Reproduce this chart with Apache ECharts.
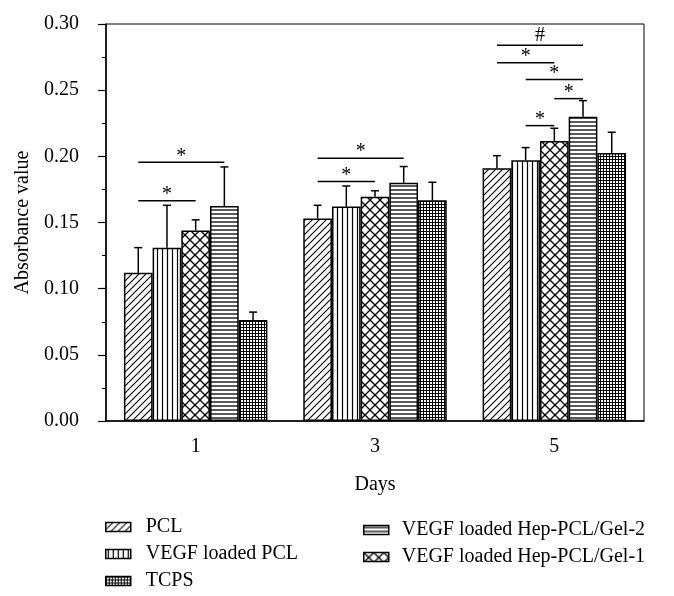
<!DOCTYPE html>
<html>
<head>
<meta charset="utf-8">
<script src="https://cdn.jsdelivr.net/npm/echarts@6/dist/echarts.min.js"></script>
<style>html,body{margin:0;padding:0;background:#fff}#c{width:674px;height:596px}</style>
</head>
<body>
<div id="c"></div>
<script>
// ---- data ----
const days = ['1', '3', '5'];
const seriesNames = ['PCL', 'VEGF loaded PCL', 'VEGF loaded Hep-PCL/Gel-1', 'VEGF loaded Hep-PCL/Gel-2', 'TCPS'];
const pcl      = [0.112, 0.153, 0.191];
const pclErr   = [0.019, 0.010, 0.0095];
const vegfPcl    = [0.131, 0.162, 0.197];
const vegfPclErr = [0.032, 0.0156, 0.0096];
const gel1    = [0.144, 0.1695, 0.2116];
const gel1Err = [0.008, 0.0045, 0.0096];
const gel2    = [0.1625, 0.180, 0.230];
const gel2Err = [0.0295, 0.0123, 0.0121];
const tcps    = [0.0763, 0.1668, 0.2026];
const tcpsErr = [0.006, 0.0136, 0.0156];
const yTicks = [0, 0.05, 0.10, 0.15, 0.20, 0.25, 0.30];
// significance brackets: day index, from bar, to bar, height
const sigDay  = [0, 0, 1, 1, 2, 2, 2, 2, 2];
const sigFrom = [0, 0, 0, 0, 0, 0, 1, 2, 1];
const sigTo   = [3, 2, 3, 2, 3, 2, 3, 3, 2];
const sigY    = [0.1955, 0.1665, 0.1986, 0.181, 0.284, 0.2708, 0.258, 0.2436, 0.2232];
const sigMark = ['*', '*', '*', '*', '#', '*', '*', '*', '*'];

const means = [pcl, vegfPcl, gel1, gel2, tcps];
const errs = [pclErr, vegfPclErr, gel1Err, gel2Err, tcpsErr];

// ---- patterns ----
function pat(w, h, draw) {
  const cv = document.createElement('canvas');
  cv.width = w; cv.height = h;
  const ctx = cv.getContext('2d');
  ctx.fillStyle = '#fff'; ctx.fillRect(0, 0, w, h);
  ctx.strokeStyle = '#000'; ctx.lineWidth = 1.1;
  draw(ctx, w, h);
  return { image: cv, repeat: 'repeat' };
}
function line(ctx, a, b, c, d) { ctx.beginPath(); ctx.moveTo(a, b); ctx.lineTo(c, d); ctx.stroke(); }
const patterns = [
  pat(7, 7, (x, w, h) => { line(x, -1, h + 1, w + 1, -1); line(x, -1, 1, 1, -1); line(x, w - 1, h + 1, w + 1, h - 1); }),
  pat(5, 5, (x, w, h) => { x.lineWidth = 1.2; line(x, 2.5, 0, 2.5, h); }),
  pat(10, 10, (x, w, h) => { x.lineWidth = 1.3; line(x, 0, 0, w, h); line(x, 0, h, w, 0); }),
  pat(4, 4, (x, w, h) => { x.lineWidth = 1.3; line(x, 0, 2, w, 2); }),
  pat(3, 3, (x, w, h) => { x.lineWidth = 1; line(x, 0.5, 0, 0.5, h); line(x, 0, 0.5, w, 0.5); })
];

const FONT = 'Liberation Serif';
const FS = 20;
const NB = 5, GAP = 0.2;

function barX(api, cat, idx) {
  const c = api.coord([cat, 0]);
  const band = api.size([1, 0])[0];
  const bw = band * (1 - GAP) / NB;
  return c[0] - band * (1 - GAP) / 2 + bw * (idx + 0.5);
}

const series = [];
means.forEach((m, i) => {
  series.push({
    name: seriesNames[i], type: 'bar', xAxisIndex: 0, data: m,
    barGap: '0%', barCategoryGap: '20%',
    itemStyle: { color: patterns[i], borderColor: '#000', borderWidth: 1.5 },
    emphasis: { disabled: true }, animation: false
  });
});
const errData = [];
means.forEach((m, i) => m.forEach((v, d) => errData.push([d, v, errs[i][d], i])));
series.push({
  type: 'custom', xAxisIndex: 0, data: errData, encode: { x: 0, y: 1 }, z: 5, animation: false,
  renderItem: function (params, api) {
    const d = api.value(0), v = api.value(1), e = api.value(2), i = api.value(3);
    const x = barX(api, d, i);
    const y0 = api.coord([d, v])[1];
    const y1 = api.coord([d, v + e])[1];
    const st = { stroke: '#000', lineWidth: 1.5 };
    return { type: 'group', children: [
      { type: 'line', shape: { x1: x, y1: y0, x2: x, y2: y1 }, style: st },
      { type: 'line', shape: { x1: x - 4, y1: y1, x2: x + 4, y2: y1 }, style: st }
    ] };
  }
});
const sigData = sigDay.map((d, k) => [d, sigY[k], sigFrom[k], sigTo[k]]);
series.push({
  type: 'custom', xAxisIndex: 0, data: sigData, encode: { x: 0, y: 1 }, z: 6, animation: false,
  renderItem: function (params, api) {
    const d = api.value(0), h = api.value(1), f = api.value(2), t = api.value(3);
    const x1 = barX(api, d, f), x2 = barX(api, d, t);
    const y = api.coord([d, h])[1];
    const mk = sigMark[params.dataIndex];
    return { type: 'group', children: [
      { type: 'line', shape: { x1: x1, y1: y, x2: x2, y2: y }, style: { stroke: '#000', lineWidth: 1.5 } },
      { type: 'text', style: { text: mk, x: (x1 + x2) / 2, y: y - (mk === '#' ? 9 : 6), align: 'center', verticalAlign: 'middle',
        font: FS + 'px "' + FONT + '"', fill: '#000' } }
    ] };
  }
});

const chart = echarts.init(document.getElementById('c'), null, { renderer: 'canvas' });
chart.setOption({
  backgroundColor: '#fff',
  animation: false,
  textStyle: { fontFamily: FONT, color: '#000' },
  grid: { left: 106, right: 30, top: 24, bottom: 175, show: true, borderColor: '#000', borderWidth: 1, backgroundColor: 'transparent' },
  legend: [
    { data: [seriesNames[0], seriesNames[1], seriesNames[4]], orient: 'vertical', left: 100, top: 512, itemWidth: 25, itemHeight: 9, itemGap: 7,
      icon: 'rect', selectedMode: false, textStyle: { fontFamily: FONT, fontSize: FS, color: '#000', padding: [0, 0, 0, 10] },
      itemStyle: { borderColor: '#000', borderWidth: 1.5 } },
    { data: [seriesNames[3], seriesNames[2]], orient: 'vertical', left: 358, top: 515, itemWidth: 25, itemHeight: 9, itemGap: 7,
      icon: 'rect', selectedMode: false, textStyle: { fontFamily: FONT, fontSize: FS, color: '#000', padding: [0, 0, 0, 8] },
      itemStyle: { borderColor: '#000', borderWidth: 1.5 } }
  ],
  xAxis: [
    { type: 'category', data: days, name: 'Days', nameLocation: 'middle', nameGap: 54,
      nameTextStyle: { fontFamily: FONT, fontSize: FS, color: '#000' },
      axisLine: { lineStyle: { color: '#000', width: 1.5 } },
      axisTick: { alignWithLabel: true, length: 8, lineStyle: { color: '#000', width: 1.2 } },
      axisLabel: { fontFamily: FONT, fontSize: FS, color: '#000', margin: 16 },
      splitLine: { show: false } },
    { type: 'category', data: days, position: 'bottom', gridIndex: 0,
      axisLine: { show: false }, axisLabel: { show: false },
      axisTick: { length: 4, lineStyle: { color: '#000', width: 1.2 } }, splitLine: { show: false } }
  ],
  yAxis: {
    type: 'value', min: yTicks[0], max: yTicks[yTicks.length - 1], interval: yTicks[1] - yTicks[0],
    name: 'Absorbance value', nameLocation: 'middle', nameGap: 71,
    nameTextStyle: { fontFamily: FONT, fontSize: FS, color: '#000' },
    axisLine: { show: true, lineStyle: { color: '#000', width: 1.5 } },
    axisTick: { show: true, length: 8, lineStyle: { color: '#000', width: 1.2 } },
    minorTick: { show: true, splitNumber: 2, length: 4, lineStyle: { color: '#000', width: 1 } },
    axisLabel: { fontFamily: FONT, fontSize: FS, color: '#000', margin: 27, formatter: v => v.toFixed(2) },
    splitLine: { show: false }
  },
  series: series
});
</script>
</body>
</html>
